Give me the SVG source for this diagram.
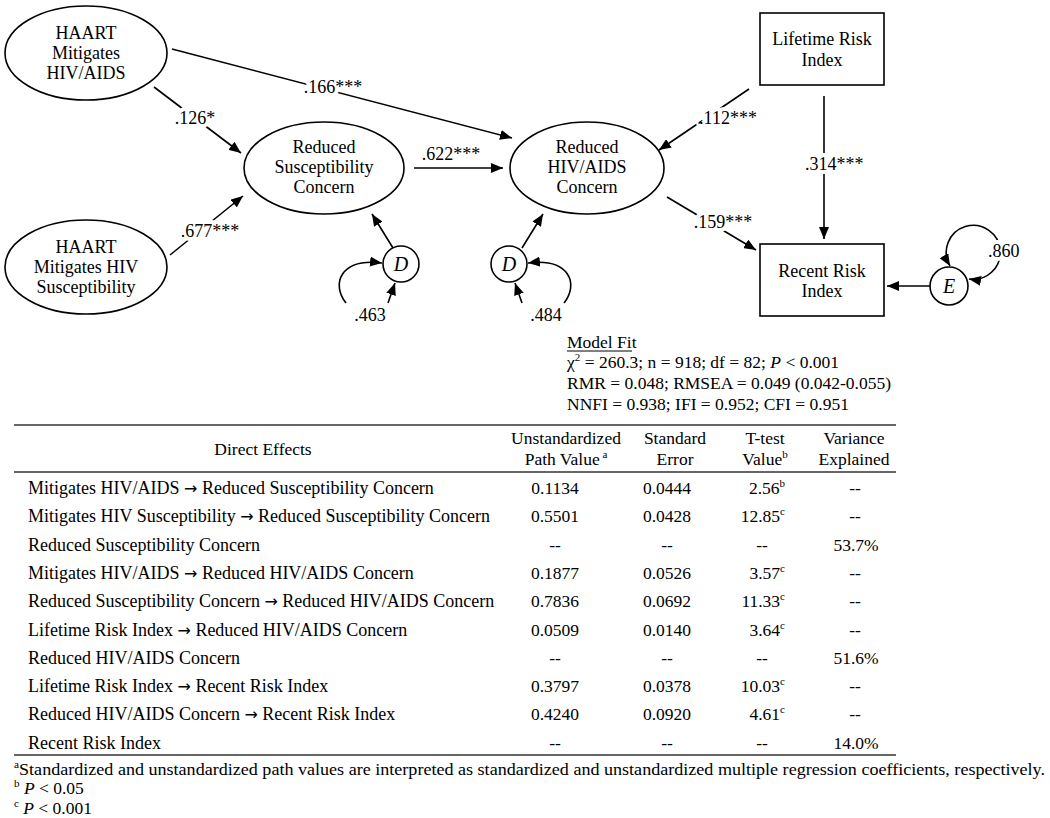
<svg xmlns="http://www.w3.org/2000/svg" width="1050" height="818" viewBox="0 0 1050 818">
<style>
.t{font-family:"Liberation Serif","Times New Roman",serif;font-size:18px;fill:#000}
.s{font-size:17.5px}
.r{font-size:18px}
.m{text-anchor:middle}
.e{text-anchor:end}
.i{font-style:italic}
.ar{font-family:"DejaVu Sans",sans-serif;font-size:16px}
.lbl{paint-order:stroke;stroke:#fff;stroke-width:8px;stroke-linejoin:round}
.shape{fill:#fff;stroke:#000;stroke-width:1.6}
.conn{stroke:#000;stroke-width:1.6;fill:none}
.rule{stroke:#333;stroke-width:1.6}
.sup{font-size:11px}
</style>
<defs>
<marker id="ah" viewBox="0 0 12 10" refX="12" refY="5" markerWidth="12" markerHeight="10" markerUnits="userSpaceOnUse" orient="auto-start-reverse"><path d="M0,0 L12,5 L0,10 z" fill="#000"/></marker>
</defs>
<rect width="1050" height="818" fill="#fff"/>

<g id="connectors">
<line class="conn" x1="154" y1="87" x2="241" y2="153" marker-end="url(#ah)"/>
<line class="conn" x1="170" y1="255" x2="243" y2="196" marker-end="url(#ah)"/>
<line class="conn" x1="172" y1="49" x2="512" y2="138" marker-end="url(#ah)"/>
<line class="conn" x1="414" y1="168" x2="503" y2="168" marker-end="url(#ah)"/>
<line class="conn" x1="749" y1="89" x2="659" y2="150" marker-end="url(#ah)"/>
<line class="conn" x1="667" y1="197" x2="756" y2="250" marker-end="url(#ah)"/>
<line class="conn" x1="824" y1="96" x2="824" y2="239" marker-end="url(#ah)"/>
<line class="conn" x1="930" y1="286" x2="887" y2="286" marker-end="url(#ah)"/>
<line class="conn" x1="393" y1="248" x2="372" y2="214" marker-end="url(#ah)"/>
<line class="conn" x1="522" y1="248" x2="543" y2="214" marker-end="url(#ah)"/>
<path class="conn" d="M346,303 C331,284 340,258 382,263" marker-end="url(#ah)"/>
<path class="conn" d="M388,303 L395,283" marker-end="url(#ah)"/>
<path class="conn" d="M564,303 C579,284 570,258 528,263" marker-end="url(#ah)"/>
<path class="conn" d="M522,303 L515,283" marker-end="url(#ah)"/>
<path class="conn" d="M950,266 A27 27 0 1 1 969,279" marker-start="url(#ah)" marker-end="url(#ah)"/>
<text class="t m lbl" x="195" y="124">.126*</text>
<text class="t m lbl" x="210" y="237">.677***</text>
<text class="t m lbl" x="333" y="93">.166***</text>
<text class="t m" x="451" y="160">.622***</text>
<text class="t m lbl" x="728" y="124">.112***</text>
<text class="t m lbl" x="723" y="228">.159***</text>
<text class="t lbl" x="805" y="170">.314***</text>
<text class="t lbl" x="988" y="257">.860</text>
<text class="t m" x="370" y="321">.463</text>
<text class="t m" x="546" y="321">.484</text>
</g>

<g id="haart-hivaids">
<ellipse class="shape" cx="86" cy="53" rx="81" ry="47"/>
<text class="t m" x="86" y="39">HAART</text>
<text class="t m" x="86" y="59">Mitigates</text>
<text class="t m" x="86" y="79">HIV/AIDS</text>
</g>
<g id="haart-susc">
<ellipse class="shape" cx="86" cy="267" rx="81" ry="47"/>
<text class="t m" x="86" y="253">HAART</text>
<text class="t m" x="86" y="273">Mitigates HIV</text>
<text class="t m" x="86" y="293">Susceptibility</text>
</g>
<g id="reduced-susc">
<ellipse class="shape" cx="324" cy="168" rx="80" ry="46"/>
<text class="t m" x="324" y="153">Reduced</text>
<text class="t m" x="324" y="173">Susceptibility</text>
<text class="t m" x="324" y="193">Concern</text>
</g>
<g id="reduced-hiv">
<ellipse class="shape" cx="587" cy="168" rx="77" ry="46"/>
<text class="t m" x="587" y="153">Reduced</text>
<text class="t m" x="587" y="173">HIV/AIDS</text>
<text class="t m" x="587" y="193">Concern</text>
</g>
<g id="lifetime">
<rect class="shape" x="760" y="13" width="124" height="72"/>
<text class="t m" x="822" y="45">Lifetime Risk</text>
<text class="t m" x="822" y="66">Index</text>
</g>
<g id="recent">
<rect class="shape" x="760" y="244" width="124" height="72"/>
<text class="t m" x="822" y="277">Recent Risk</text>
<text class="t m" x="822" y="297">Index</text>
</g>
<g id="d1">
<circle class="shape" cx="401" cy="264" r="18"/>
<text class="t m i" x="401" y="271" style="font-size:20px">D</text>
</g>
<g id="d2">
<circle class="shape" cx="509" cy="264" r="18"/>
<text class="t m i" x="509" y="271" style="font-size:20px">D</text>
</g>
<g id="e">
<circle class="shape" cx="949" cy="286" r="19"/>
<text class="t m i" x="949" y="293" style="font-size:20px">E</text>
</g>

<g id="model-fit">
<text class="t s" x="567" y="348">Model Fit</text>
<line x1="567" y1="351" x2="632" y2="351" stroke="#000" stroke-width="1"/>
<text class="t s" x="567" y="368">χ<tspan class="sup" dy="-7">2</tspan><tspan dy="7"> = 260.3; n = 918; df = 82; </tspan><tspan class="i">P</tspan> &lt; 0.001</text>
<text class="t s" x="567" y="389">RMR = 0.048; RMSEA = 0.049 (0.042-0.055)</text>
<text class="t s" x="567" y="410">NNFI = 0.938; IFI = 0.952; CFI = 0.951</text>
</g>

<g id="table">
<line class="rule" x1="14" y1="425" x2="896" y2="425"/>
<line class="rule" x1="14" y1="472" x2="896" y2="472"/>
<line class="rule" x1="14" y1="755" x2="896" y2="755"/>
<text class="t s m" x="263" y="455">Direct Effects</text>
<text class="t s m" x="566" y="444">Unstandardized</text>
<text class="t s m" x="566" y="465">Path Value<tspan class="sup" dy="-7"> a</tspan></text>
<text class="t s m" x="675" y="444">Standard</text>
<text class="t s m" x="675" y="465">Error</text>
<text class="t s m" x="765" y="444">T-test</text>
<text class="t s m" x="765" y="465">Value<tspan class="sup" dy="-7">b</tspan></text>
<text class="t s m" x="854" y="444">Variance</text>
<text class="t s m" x="854" y="465">Explained</text>

<text class="t r" x="28" y="494">Mitigates HIV/AIDS <tspan class="ar">→</tspan> Reduced Susceptibility Concern</text>
<text class="t s m" x="555" y="494">0.1134</text><text class="t s m" x="667" y="494">0.0444</text><text class="t s e" x="785" y="494">2.56<tspan class="sup" dy="-7">b</tspan></text><text class="t s m" x="855" y="494">--</text>

<text class="t r" x="28" y="522">Mitigates HIV Susceptibility <tspan class="ar">→</tspan> Reduced Susceptibility Concern</text>
<text class="t s m" x="555" y="522">0.5501</text><text class="t s m" x="667" y="522">0.0428</text><text class="t s e" x="785" y="522">12.85<tspan class="sup" dy="-7">c</tspan></text><text class="t s m" x="855" y="522">--</text>

<text class="t r" x="28" y="551">Reduced Susceptibility Concern</text>
<text class="t s m" x="555" y="551">--</text><text class="t s m" x="667" y="551">--</text><text class="t s m" x="762" y="551">--</text><text class="t s m" x="856" y="551">53.7%</text>

<text class="t r" x="28" y="579">Mitigates HIV/AIDS <tspan class="ar">→</tspan> Reduced HIV/AIDS Concern</text>
<text class="t s m" x="555" y="579">0.1877</text><text class="t s m" x="667" y="579">0.0526</text><text class="t s e" x="785" y="579">3.57<tspan class="sup" dy="-7">c</tspan></text><text class="t s m" x="855" y="579">--</text>

<text class="t r" x="28" y="607">Reduced Susceptibility Concern <tspan class="ar">→</tspan> Reduced HIV/AIDS Concern</text>
<text class="t s m" x="555" y="607">0.7836</text><text class="t s m" x="667" y="607">0.0692</text><text class="t s e" x="785" y="607">11.33<tspan class="sup" dy="-7">c</tspan></text><text class="t s m" x="855" y="607">--</text>

<text class="t r" x="28" y="636">Lifetime Risk Index <tspan class="ar">→</tspan> Reduced HIV/AIDS Concern</text>
<text class="t s m" x="555" y="636">0.0509</text><text class="t s m" x="667" y="636">0.0140</text><text class="t s e" x="785" y="636">3.64<tspan class="sup" dy="-7">c</tspan></text><text class="t s m" x="855" y="636">--</text>

<text class="t r" x="28" y="664">Reduced HIV/AIDS Concern</text>
<text class="t s m" x="555" y="664">--</text><text class="t s m" x="667" y="664">--</text><text class="t s m" x="762" y="664">--</text><text class="t s m" x="856" y="664">51.6%</text>

<text class="t r" x="28" y="692">Lifetime Risk Index <tspan class="ar">→</tspan> Recent Risk Index</text>
<text class="t s m" x="555" y="692">0.3797</text><text class="t s m" x="667" y="692">0.0378</text><text class="t s e" x="785" y="692">10.03<tspan class="sup" dy="-7">c</tspan></text><text class="t s m" x="855" y="692">--</text>

<text class="t r" x="28" y="720">Reduced HIV/AIDS Concern <tspan class="ar">→</tspan> Recent Risk Index</text>
<text class="t s m" x="555" y="720">0.4240</text><text class="t s m" x="667" y="720">0.0920</text><text class="t s e" x="785" y="720">4.61<tspan class="sup" dy="-7">c</tspan></text><text class="t s m" x="855" y="720">--</text>

<text class="t r" x="28" y="749">Recent Risk Index</text>
<text class="t s m" x="555" y="749">--</text><text class="t s m" x="667" y="749">--</text><text class="t s m" x="762" y="749">--</text><text class="t s m" x="856" y="749">14.0%</text>
</g>

<g id="footnotes">
<text class="t s" x="14" y="775" textLength="1031" lengthAdjust="spacingAndGlyphs"><tspan class="sup" dy="-7">a</tspan><tspan dy="7">Standardized and unstandardized path values are interpreted as standardized and unstandardized multiple regression coefficients, respectively.</tspan></text>
<text class="t s" x="14" y="794"><tspan class="sup" dy="-7">b</tspan><tspan dy="7"> </tspan><tspan class="i">P</tspan> &lt; 0.05</text>
<text class="t s" x="14" y="814"><tspan class="sup" dy="-7">c</tspan><tspan dy="7"> </tspan><tspan class="i">P</tspan> &lt; 0.001</text>
</g>
</svg>
